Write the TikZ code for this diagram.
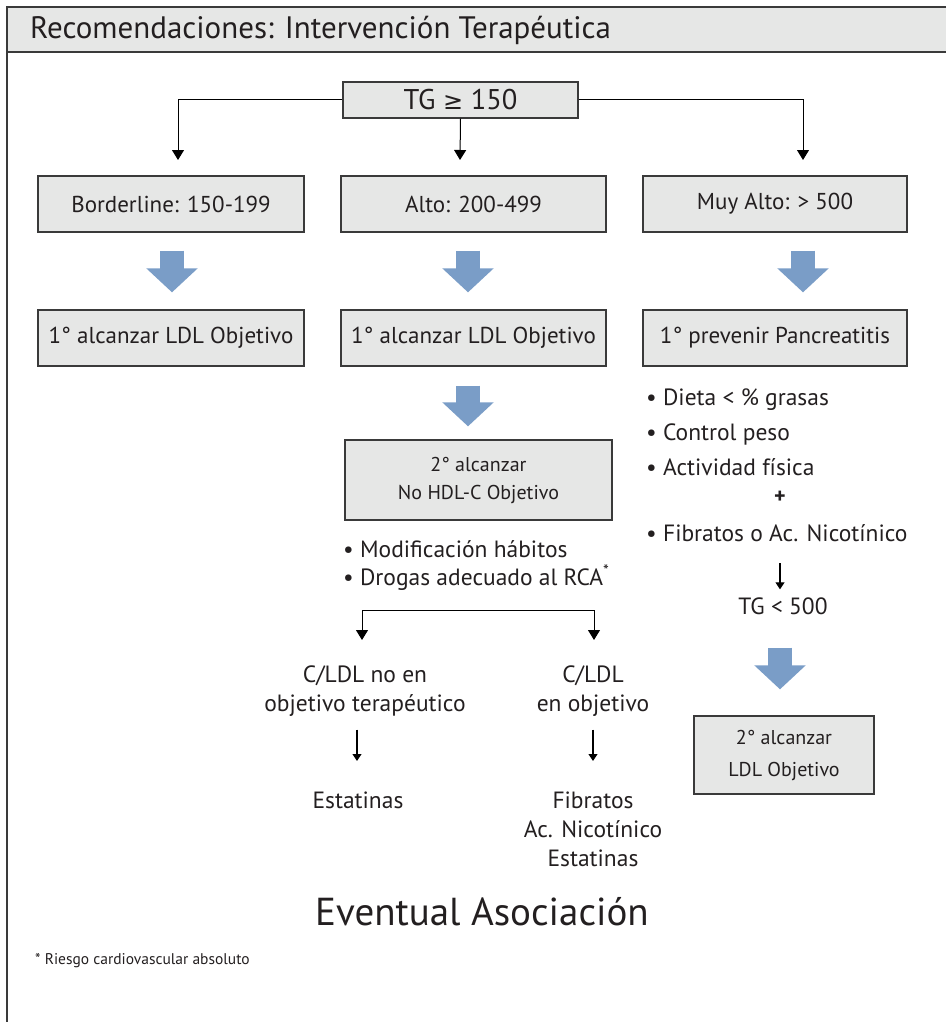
\documentclass[tikz,border=0pt]{standalone}
\usepackage{fontspec}
\setmainfont{PT Sans}
\newfontfamily\symfont{DejaVu Sans}
\usetikzlibrary{arrows.meta}
\definecolor{boxgray}{HTML}{E6E7E6}
\definecolor{bordergray}{HTML}{3A3A3A}
\definecolor{arrowblue}{HTML}{7A9DC7}
\definecolor{textgray}{HTML}{231F20}
\begin{document}
\begin{tikzpicture}[x=1pt,y=-1pt,
  box/.style={draw=bordergray, line width=1.3pt, fill=boxgray, inner sep=0pt, text=textgray,
    font=\fontsize{23}{28}\selectfont, align=center},
  txt/.style={inner sep=0pt, text=textgray, font=\fontsize{23.5}{29}\selectfont, align=center},
  tarrow/.style={draw=black, line width=1pt, -{Triangle[width=12pt,length=10pt]}},
  sarrow/.style={draw=black, line width=1.1pt, -{Triangle[width=9pt,length=7pt]}},
  bluearrow/.style={draw=arrowblue, line width=24pt, -{Triangle[width=50pt,length=24pt]}}
]
\useasboundingbox (0,0) rectangle (946,1022);
% frame and title band
\fill[boxgray] (7,7) rectangle (946,52);
\draw[bordergray, line width=1.3pt] (946,7) -- (7,7) -- (7,1022);
\draw[bordergray, line width=1.3pt] (7,52) -- (946,52);
\node[anchor=west, inner sep=0pt, text=textgray, font=\fontsize{31}{34}\selectfont] (title) at (30,30) {Recomendaciones: Intervención Terapéutica};

% top box
\node[box, minimum width=235pt, minimum height=36pt, font=\fontsize{28.5}{30}\selectfont] (tg) at (460.5,100) {TG {\symfont\fontsize{24}{30}\selectfont ≥} 150};

% row 1
\node[box, minimum width=266pt, minimum height=56pt] (b1) at (171,204) {Borderline: 150-199};
\node[box, minimum width=265pt, minimum height=56pt] (b2) at (473.5,204) {Alto: 200-499};
\node[box, minimum width=264pt, minimum height=56pt] (b3) at (775,204) {Muy Alto: > 500};

\coordinate (c1) at (178,160);
\coordinate (c2) at (460,160);
\coordinate (c3) at (803,160);
\draw[tarrow] (tg.west) -| (c1);
\draw[tarrow] (tg.south) -- (c2);
\draw[tarrow] (tg.east) -| (c3);

% row 2
\node[box, minimum width=266pt, minimum height=56pt] (r1) at (171,338) {1° alcanzar LDL Objetivo};
\node[box, minimum width=265pt, minimum height=56pt] (r2) at (473.5,338) {1° alcanzar LDL Objetivo};
\node[box, minimum width=264pt, minimum height=56pt] (r3) at (775,338) {1° prevenir Pancreatitis};

\draw[bluearrow, shorten <=18pt, shorten >=17pt] ([xshift=1pt]b1.south) -- ([xshift=1pt]r1.north);
\draw[bluearrow, shorten <=18pt, shorten >=17pt] ([xshift=-5.5pt]b2.south) -- ([xshift=-5.5pt]r2.north);
\draw[bluearrow, shorten <=18pt, shorten >=17pt] ([xshift=28pt]b3.south) -- ([xshift=28pt]r3.north);

% middle column
\node[box, minimum width=267pt, minimum height=80pt, font=\fontsize{20}{28}\selectfont] (hdl) at (478.5,480) {2° alcanzar\\No HDL-C Objetivo};
\coordinate (r2s) at ([xshift=-5.5pt]r2.south);
\draw[bluearrow, shorten <=19pt, shorten >=13pt] (r2s) -- (r2s |- hdl.north);

\node[txt, anchor=west] (m1) at (343,549) {• Modificación hábitos};
\node[txt, anchor=west] (m2) at (343,578) {• Drogas adecuado al RCA\textsuperscript{*}};

\coordinate (bk) at (478,610);
\coordinate (bl) at (362,640);
\coordinate (br) at (594,640);
\draw[tarrow] (bk) -| (bl);
\draw[tarrow] (bk) -| (br);

\node[txt] (n1) at (365,691) {C/LDL no en\\objetivo terapéutico};
\node[txt] (n2) at (593,691) {C/LDL\\en objetivo};
\node[txt] (e1) at (358,800) {Estatinas};
\node[txt] (f1) at (593,829) {Fibratos\\Ac. Nicotínico\\Estatinas};
\coordinate (ea) at (357,761);
\coordinate (fa) at (593,761);
\draw[sarrow, shorten <=13pt] (n1.south -| ea) -- (ea);
\draw[sarrow, shorten <=13pt] (n2.south -| fa) -- (fa);

\node[inner sep=0pt, text=textgray, font=\fontsize{39}{42}\selectfont] (ev) at (482,912) {Eventual Asociación};

% right column
\node[txt, anchor=west] (d1) at (646,400) {• Dieta < \% grasas};
\node[txt, anchor=west] (d2) at (646,434) {• Control peso};
\node[txt, anchor=west] (d3) at (646,467) {• Actividad física};
\node[txt, font=\fontsize{22}{24}\bfseries] (plus) at (780,497) {+};
\node[txt, anchor=west] (d4) at (646,533) {• Fibratos o Ac. Nicotínico};
\node[txt] (tg5) at (783,606) {TG < 500};
\coordinate (sa) at (780,563);
\draw[sarrow, shorten >=8pt] (sa) -- (sa |- tg5.north);
\node[box, minimum width=180pt, minimum height=78pt, font=\fontsize{20}{32}\selectfont] (l2) at (784,755) {2° alcanzar\\LDL Objetivo};
\coordinate (tgs) at ([xshift=-3pt]tg5.south);
\draw[bluearrow, shorten <=33pt, shorten >=26pt] (tgs) -- (tgs |- l2.north);

% footnote
\node[anchor=west, inner sep=0pt, text=textgray, font=\fontsize{15.5}{17}\selectfont] (fn) at (35,961) {* Riesgo cardiovascular absoluto};
\end{tikzpicture}
\end{document}
